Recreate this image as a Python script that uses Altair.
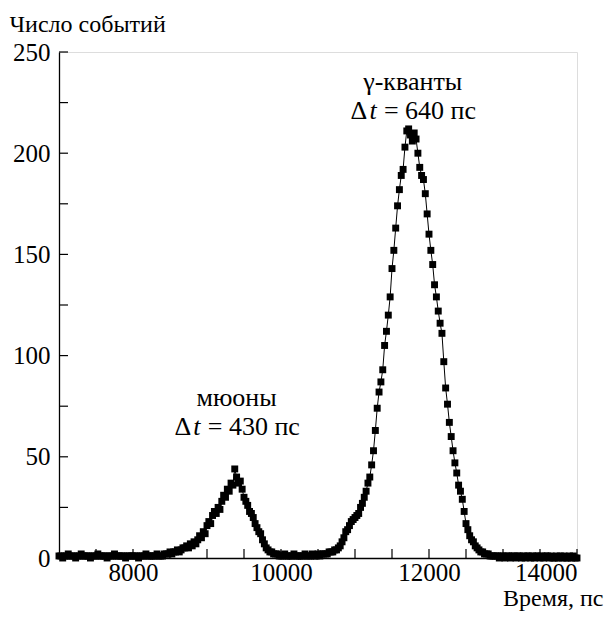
import altair as alt
import pandas as pd

# time bins (ps), 25 ps step
times = list(range(7000, 14001, 25))

# counts per bin (rows of 500 ps)
counts = [
    1, 1, 0, 1, 1, 2, 1, 1, 1, 0, 1, 1, 2, 1, 1, 1, 1, 0, 1, 1,          # 7000
    1, 2, 1, 1, 1, 1, 0, 1, 1, 1, 2, 1, 1, 1, 1, 1, 0, 1, 1, 1,          # 7500
    1, 1, 1, 0, 1, 1, 1, 2, 1, 1, 1, 1, 1, 2, 1, 1, 1, 2, 2, 2,          # 8000
    3, 2, 3, 3, 4, 3, 4, 5, 5, 6, 5, 7, 6, 8, 7, 9, 11, 10, 13, 12,      # 8500
    16, 18, 17, 21, 23, 22, 25, 24, 28, 31, 30, 34, 33, 37, 36, 44, 40, 37, 38, 34,  # 9000
    30, 28, 26, 23, 22, 20, 17, 15, 13, 12, 9, 7, 5, 4, 3, 3, 2, 2, 2, 1,            # 9500
    1, 1, 2, 1, 1, 1, 1, 2, 1, 1, 1, 1, 1, 2, 1, 1, 1, 2, 1, 1,          # 10000
    2, 1, 2, 2, 2, 2, 3, 3, 3, 4, 4, 5, 6, 8, 10, 13, 14, 16, 18, 19,    # 10500
    20, 21, 22, 25, 27, 30, 33, 37, 40, 46, 53, 63, 74, 82, 87, 93, 105, 112, 120, 129,          # 11000
    143, 152, 163, 174, 182, 189, 192, 203, 211, 212, 209, 206, 210, 207, 200, 193, 189, 187, 180, 170,  # 11500
    160, 152, 145, 135, 129, 122, 116, 111, 97, 84, 76, 67, 60, 53, 47, 42, 36, 33, 29, 23,      # 12000
    17, 14, 11, 9, 8, 6, 5, 4, 3, 3, 2, 2, 2, 1, 1, 1, 1, 1, 0, 1,       # 12500
    1, 0, 1, 1, 0, 1, 1, 0, 1, 1, 0, 1, 0, 1, 1, 0, 1, 0, 1, 1,          # 13000
    0, 1, 0, 1, 1, 0, 1, 0, 0, 1, 0, 1, 0, 1, 0, 0, 1, 0, 1, 0,          # 13500
    0,                                                                   # 14000
]

x_labels = [8000, 10000, 12000, 14000]
y_labels = [0, 50, 100, 150, 200, 250]
x_ticks = list(range(7500, 14001, 500))
y_ticks = list(range(25, 251, 25))

# peak annotations
peak_names = ["мюоны", "γ-кванты"]
peak_x = [9400, 11780]
peak_y1 = [75, 231]
peak_y2 = [61, 217]
peak_dt = ["= 430 пс", "= 640 пс"]

FONT = "Liberation Serif"
FS_LAB = 25
FS_TXT = 26
FS_TITLE = 24
W, H = 518, 506

df = pd.DataFrame({"t": times, "n": counts})
xs = alt.Scale(domain=[7000, 14000], nice=False, zero=False)
ys = alt.Scale(domain=[0, 250], nice=False)

x_axis = alt.Axis(
    values=x_labels, format="d", ticks=False, grid=False,
    domainColor="black", domainWidth=1.3,
    labelFont=FONT, labelFontSize=FS_LAB, labelColor="black", labelPadding=2,
    title="Время, пс", titleFont=FONT, titleFontSize=FS_TITLE, titleFontWeight="normal",
    titleColor="black", titleAlign="right", titleAnchor="end", titleX=W + 26,
    titleY=47, titleBaseline="alphabetic",
)
y_axis = alt.Axis(
    values=y_labels, format="d", ticks=False, grid=False,
    domainColor="black", domainWidth=1.3,
    labelFont=FONT, labelFontSize=FS_LAB, labelColor="black", labelPadding=9,
    title="Число событий", titleFont=FONT, titleFontSize=FS_TITLE, titleFontWeight="normal",
    titleColor="black", titleAngle=0, titleAlign="left", titleX=-50, titleY=-21,
    titleBaseline="alphabetic",
)

def X(field):
    return alt.X(field, scale=xs, axis=x_axis)

def Y(field):
    return alt.Y(field, scale=ys, axis=y_axis)

base = alt.Chart(df)
line = base.mark_line(color="black", strokeWidth=1.0).encode(x=X("t:Q"), y=Y("n:Q"))
pts = base.mark_point(shape="square", filled=True, size=48, color="black", opacity=1).encode(
    x=X("t:Q"), y=Y("n:Q")
)

xt = alt.Chart(pd.DataFrame({"t": x_ticks})).mark_rule(color="black", strokeWidth=1.2).encode(
    x=X("t:Q"), y=alt.value(H), y2=alt.value(H - 9)
)
yt = alt.Chart(pd.DataFrame({"n": y_ticks})).mark_rule(color="black", strokeWidth=1.2).encode(
    y=Y("n:Q"), x=alt.value(0), x2=alt.value(9)
)

ann = pd.DataFrame({"t": peak_x, "n": peak_y1, "n2": peak_y2,
                    "name": peak_names, "dt": peak_dt})

# widths (em) in a Times-like face
w_delta = 0.61 * FS_TXT + 3
w_t = 0.28 * FS_TXT + 2
w_sp = 0.2 * FS_TXT
w_rest = 3.5 * FS_TXT
start = -(w_delta + w_t + w_sp + w_rest) / 2

txt_common = dict(font=FONT, fontSize=FS_TXT, color="black", baseline="alphabetic")
name_t = alt.Chart(ann).mark_text(align="center", **txt_common).encode(
    x=X("t:Q"), y=Y("n:Q"), text="name:N"
)
ann2 = alt.Chart(ann).transform_calculate(n="datum.n2")
delta_t = ann2.mark_text(align="left", dx=start, **txt_common).encode(
    x=X("t:Q"), y=Y("n:Q"), text=alt.value("Δ")
)
ital_t = ann2.mark_text(align="left", dx=start + w_delta, fontStyle="italic", **txt_common).encode(
    x=X("t:Q"), y=Y("n:Q"), text=alt.value("t")
)
rest_t = ann2.mark_text(align="left", dx=start + w_delta + w_t + w_sp, **txt_common).encode(
    x=X("t:Q"), y=Y("n:Q"), text="dt:N"
)

chart = alt.layer(line, pts, xt, yt, name_t, delta_t, ital_t, rest_t).properties(
    width=W, height=H,
    autosize=alt.AutoSizeParams(type="none"),
    padding={"left": 51, "top": 44, "right": 28, "bottom": 53},
).configure_view(stroke=None).configure(background="white")

chart.save("out.html", embed_options={"renderer": "svg", "actions": False})
